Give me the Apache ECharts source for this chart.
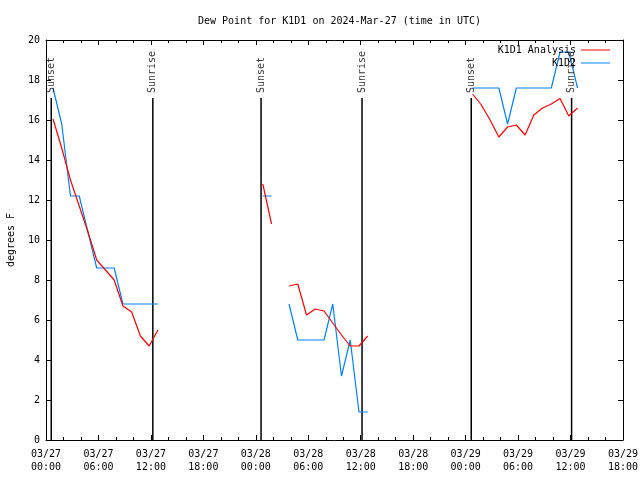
<!DOCTYPE html>
<html><head><meta charset="utf-8">
<script src="https://cdn.jsdelivr.net/npm/echarts@6.0.0/dist/echarts.min.js"></script>
<style>html,body{margin:0;padding:0;background:#fff}#c{width:640px;height:480px}</style>
</head><body><div id="c"></div>
<script>
const chartTitle = 'Dew Point for K1D1 on 2024-Mar-27 (time in UTC)';
const yAxisName = 'degrees F';
const seriesNames = ['K1D1 Analysis', 'K1D2'];
// x values: hours since 2024-03-27 00:00 UTC
const tickDates = ['03/27','03/27','03/27','03/27','03/28','03/28','03/28','03/28','03/29','03/29','03/29','03/29'];
const tickTimes = ['00:00','06:00','12:00','18:00','00:00','06:00','12:00','18:00','00:00','06:00','12:00','18:00'];

const times1 = [0.8, 1.8, 2.8, 3.8, 4.8, 5.8, 6.8, 7.8, 8.8, 9.8, 10.8, 11.8, 12.8];
const analysis1 = [16.05, 14.6, 13.0, 11.7, 10.4, 9.0, 8.5, 8.0, 6.7, 6.4, 5.2, 4.7, 5.5];
const obs1 = [17.6, 15.8, 12.2, 12.2, 10.4, 8.6, 8.6, 8.6, 6.8, 6.8, 6.8, 6.8, 6.8];

const times2 = [24.8, 25.8];
const analysis2 = [12.8, 10.8];
const obs2 = [12.2, 12.2];

const times3 = [27.8, 28.8, 29.8, 30.8, 31.8, 32.8, 33.8, 34.8, 35.8, 36.8];
const analysis3 = [7.7, 7.8, 6.25, 6.55, 6.45, 5.85, 5.25, 4.7, 4.7, 5.2];
const obs3 = [6.8, 5.0, 5.0, 5.0, 5.0, 6.8, 3.2, 5.0, 1.4, 1.4];

const times4 = [48.8, 49.8, 50.8, 51.8, 52.8, 53.8, 54.8, 55.8, 56.8, 57.8, 58.8, 59.8, 60.8];
const analysis4 = [17.3, 16.75, 16.0, 15.15, 15.65, 15.75, 15.25, 16.25, 16.6, 16.8, 17.08, 16.2, 16.6];
const obs4 = [17.6, 17.6, 17.6, 17.6, 15.8, 17.6, 17.6, 17.6, 17.6, 17.6, 19.4, 19.4, 17.6];

const sunTimes = [0.6, 12.22, 24.6, 36.15, 48.64, 60.12];
const sunLabels = ['Sunset', 'Sunrise', 'Sunset', 'Sunrise', 'Sunset', 'Sunrise'];
const sunLineTop = 17.1;

const FONT = 'DejaVu Sans Mono';

function joinSegments(segs) {
  const out = [];
  segs.forEach((s, k) => {
    if (k > 0) out.push(['-', '-']);
    s[0].forEach((t, i) => out.push([t, s[1][i]]));
  });
  return out;
}
const analysisData = joinSegments([[times1, analysis1], [times2, analysis2], [times3, analysis3], [times4, analysis4]]);
const obsData = joinSegments([[times1, obs1], [times2, obs2], [times3, obs3], [times4, obs4]]);

const sunLineData = [];
sunTimes.forEach((t, i) => {
  if (i > 0) sunLineData.push(['-', '-']);
  sunLineData.push([t, 0]);
  sunLineData.push([t, sunLineTop]);
});

const chart = echarts.init(document.getElementById('c'), null, {renderer: 'canvas'});
const axisCommon = {
  axisLine: {show: true, onZero: false, lineStyle: {color: '#000', width: 1}},
  splitLine: {show: false}
};
chart.setOption({
  animation: false,
  backgroundColor: '#fff',
  title: {
    text: chartTitle, left: 193, top: 11,
    textStyle: {fontFamily: FONT, fontSize: 10, fontWeight: 'normal', color: '#000'}
  },
  legend: {
    data: seriesNames,
    orient: 'vertical', align: 'right',
    right: 30, top: 44, padding: 0,
    icon: 'rect',
    itemWidth: 29, itemHeight: 1, itemGap: 1,
    textStyle: {fontFamily: FONT, fontSize: 10, color: '#000', lineHeight: 12},
    selectedMode: false
  },
  grid: {left: 46, right: 17, top: 40, bottom: 40, containLabel: false, outerBoundsMode: 'none'},
  xAxis: [
    Object.assign({
      type: 'value', position: 'bottom', min: 0, max: 66, interval: 6,
      axisTick: {show: true, inside: true, length: 5, lineStyle: {color: '#000'}},
      minorTick: {show: true, splitNumber: 3, length: 3, lineStyle: {color: '#000'}},
      axisLabel: {
        margin: 8, fontFamily: FONT, fontSize: 10, color: '#000', lineHeight: 13,
        formatter: v => { const i = Math.round(v / 6); return tickDates[i] + '\n' + tickTimes[i]; }
      }
    }, axisCommon),
    Object.assign({
      type: 'value', position: 'top', min: 0, max: 66, interval: 6,
      axisTick: {show: true, inside: true, length: 5, lineStyle: {color: '#000'}},
      minorTick: {show: true, splitNumber: 3, length: 3, lineStyle: {color: '#000'}},
      axisLabel: {show: false}
    }, axisCommon)
  ],
  yAxis: [
    Object.assign({
      type: 'value', position: 'left', min: 0, max: 20, interval: 2,
      name: yAxisName, nameLocation: 'middle', nameRotate: 90, nameGap: 30,
      nameTextStyle: {fontFamily: FONT, fontSize: 10, color: '#000'},
      axisTick: {show: true, inside: true, length: 5, lineStyle: {color: '#000'}},
      axisLabel: {margin: 6, fontFamily: FONT, fontSize: 10, color: '#000'}
    }, axisCommon),
    Object.assign({
      type: 'value', position: 'right', min: 0, max: 20, interval: 2,
      axisTick: {show: true, inside: true, length: 5, lineStyle: {color: '#000'}},
      axisLabel: {show: false}
    }, axisCommon)
  ],
  series: [
    {
      name: 'sun', type: 'line', data: sunLineData, symbol: 'none', silent: true,
      lineStyle: {color: '#000', width: 1.5}, connectNulls: false, z: 1
    },
    {
      name: 'sunLabels', type: 'scatter', symbolSize: 0, silent: true,
      data: sunTimes.map((t, i) => ({value: [t, sunLineTop], name: sunLabels[i]})),
      label: {
        show: true, formatter: '{b}', position: 'top', distance: 5, rotate: 90,
        align: 'left', verticalAlign: 'middle',
        fontFamily: FONT, fontSize: 10, color: '#000'
      }
    },
    {
      name: seriesNames[0], type: 'line', data: analysisData, symbol: 'none',
      connectNulls: false, color: '#ff0000', lineStyle: {color: '#ff0000', width: 1.2}, z: 3
    },
    {
      name: seriesNames[1], type: 'line', data: obsData, symbol: 'none',
      connectNulls: false, color: '#0080ff', lineStyle: {color: '#0080ff', width: 1.2}, z: 2
    }
  ]
});
</script>
</body></html>
